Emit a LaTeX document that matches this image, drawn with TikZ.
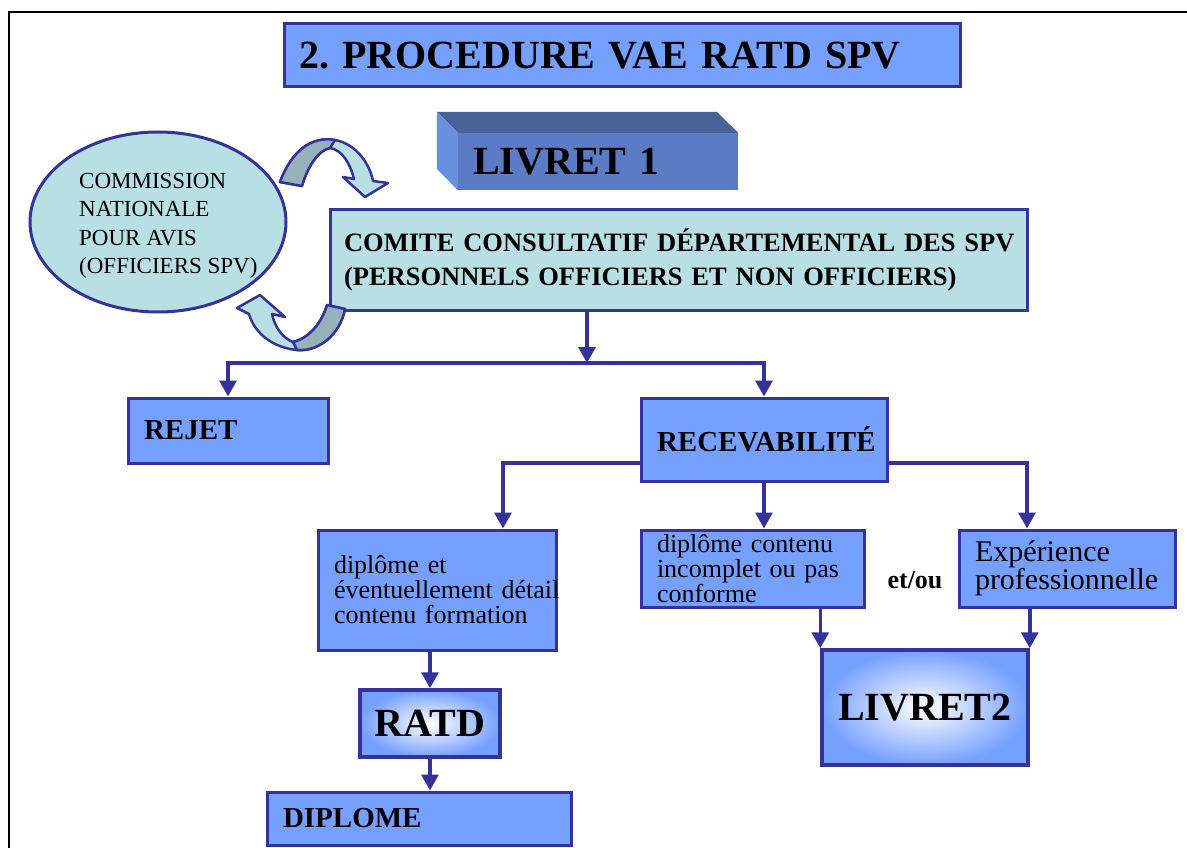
\documentclass[tikz,border=0pt]{standalone}
\usepackage{fontspec}
\setmainfont{Liberation Serif}
\usetikzlibrary{arrows.meta, shapes.geometric, calc}
\definecolor{boxblue}{RGB}{118,160,255}
\definecolor{boxline}{RGB}{51,51,153}
\definecolor{palecyan}{RGB}{184,224,228}
\definecolor{ribbongray}{RGB}{149,178,184}
\definecolor{cubefront}{RGB}{91,124,196}
\definecolor{cubetop}{RGB}{72,99,153}
\definecolor{cubeside}{RGB}{104,143,224}
\frenchspacing
\hyphenpenalty=10000
\exhyphenpenalty=10000

\begin{document}
\begin{tikzpicture}[x=1pt, y=-1pt,
                    box/.style = {draw=boxline, fill=boxblue, line width=3pt, inner xsep=16pt,
                                  inner ysep=0pt, align=left},
                    pale/.style = {box, fill=palecyan},
                    glow/.style = {draw=boxline, line width=3.5pt, inner color=white, outer color=boxblue,
                                   font=\bfseries\fontsize{40}{44}\selectfont},
                    flow/.style = {draw=boxline, line width=3.5pt, -{Triangle[width=17pt, length=16pt]}},
                    curl/.style = {draw=boxline, line width=2.5pt, line join=round}]
    \useasboundingbox (0,0) rectangle (1187,848);
    \draw[line width=2.5pt] (9,848) -- (9,12) -- (1187,12);

    \node[box, minimum width=676pt, minimum height=63pt, text width=646pt, inner xsep=15pt,
          font=\bfseries\fontsize{40}{46}\selectfont] (title) at (622,55.5) {\mbox{2. PROCEDURE VAE RATD SPV}};

    \node[fill=cubefront, minimum width=280pt, minimum height=57pt, text width=250pt, inner xsep=15pt,
          inner ysep=0pt, align=left, font=\bfseries\fontsize{40}{44}\selectfont] (livret1) at (598,161.5) {LIVRET 1};
    \fill[cubetop] (livret1.north west) -- ++(-21,-21) -- ++(280,0) -- (livret1.north east) -- cycle;
    \fill[cubeside] (livret1.north west) -- ++(-21,-21) -- ++(0,57) -- (livret1.south west) -- cycle;

    \node[pale, minimum width=697pt, minimum height=100pt, text width=669pt, inner xsep=14pt,
          font=\bfseries\fontsize{26.5}{33.5}\selectfont] (comite) at (678.5,260)
          {\mbox{COMITE CONSULTATIF DÉPARTEMENTAL DES SPV}\\\mbox{(PERSONNELS OFFICIERS ET NON OFFICIERS)}};

    \node[draw=boxline, fill=palecyan, ellipse, line width=3pt, minimum width=256pt,
          minimum height=180pt] (commission) at (158,222) {};
    \node[anchor=west, inner sep=0pt, align=left, font=\fontsize{23}{28.5}\selectfont] (commtext) at (79,226)
          {COMMISSION\\NATIONALE\\POUR AVIS\\(OFFICIERS SPV)};

    \filldraw[curl, fill=palecyan] (280,182) .. controls (292,150) and (312,136) .. (335,140)
        .. controls (357,144) and (370,165) .. (373,181) -- (388,183) -- (365,197) -- (343,177) -- (354,179)
        .. controls (350,163) and (342,150) .. (330,148) .. controls (318,150) and (307,168) .. (302,186) -- cycle;
    \filldraw[curl, fill=ribbongray] (280,182) .. controls (292,150) and (312,136) .. (335,140) -- (330,148)
        .. controls (318,150) and (307,168) .. (302,186) -- cycle;
    \filldraw[curl, fill=palecyan] (345,309) .. controls (340,335) and (318,352) .. (297,350)
        .. controls (275,348) and (255,335) .. (249,314) -- (237,308) -- (260,295) -- (285,317) -- (272,314)
        .. controls (275,328) and (283,338) .. (293,342) .. controls (310,338) and (322,322) .. (327,305) -- cycle;
    \filldraw[curl, fill=ribbongray] (345,309) .. controls (340,335) and (318,352) .. (297,350) -- (293,342)
        .. controls (310,338) and (322,322) .. (327,305) -- cycle;

    \node[box, minimum width=200pt, minimum height=65pt, text width=168pt,
          font=\bfseries\fontsize{29}{33}\selectfont] (rejet) at (228,430.5) {REJET};
    \node[box, minimum width=246pt, minimum height=83pt, text width=214pt,
          font=\bfseries\fontsize{29}{33}\selectfont] (recev) at (764,439.5) {\mbox{RECEVABILITÉ}};

    \node[box, minimum width=238pt, minimum height=120pt, text width=206pt,
          font=\fontsize{26}{25}\selectfont] (formation) at (437,590)
          {\mbox{diplôme et}\\\mbox{éventuellement détail}\\\mbox{contenu formation}};
    \node[box, minimum width=223pt, minimum height=77pt, text width=191pt,
          font=\fontsize{26}{21.7}\selectfont] (incomplet) at (752.5,568.5)
          {\mbox{diplôme contenu}\\\mbox{incomplet ou pas}\\\mbox{conforme}};
    \node[font=\bfseries\fontsize{26}{30}\selectfont] (etou) at (915,580) {et/ou};
    \node[box, minimum width=216pt, minimum height=77pt, text width=184pt,
          font=\fontsize{30}{25}\selectfont] (experience) at (1067,568.5)
          {\mbox{Expérience}\\\mbox{professionnelle}};

    \node[glow, minimum width=206pt, minimum height=115pt] (livret2) at (925,707.5) {LIVRET2};
    \node[glow, minimum width=140pt, minimum height=67pt] (ratd) at (430,723.5) {RATD};
    \node[box, minimum width=304pt, minimum height=53pt, text width=272pt,
          font=\bfseries\fontsize{29}{33}\selectfont] (diplome) at (419,818.5) {DIPLOME};

    \coordinate (split) at (587,363);
    \draw[flow] (comite.south -| split) -- (split);
    \draw[flow] (split) -| (rejet.north);
    \draw[flow] (split) -| (recev.north);
    \draw[flow] ($(recev.west)+(0,23.5)$) -| ($(formation.north)+(66,0)$);
    \draw[flow] (recev.south) -- (recev.south |- incomplet.north);
    \draw[flow] ($(recev.east)+(0,23.5)$) -| ($(experience.north)+(-40,0)$);
    \draw[flow] (livret2.north west |- incomplet.south) -- (livret2.north west);
    \draw[flow] (livret2.north east |- experience.south) -- (livret2.north east);
    \draw[flow] (ratd.north |- formation.south) -- (ratd.north);
    \draw[flow] (ratd.south) -- (ratd.south |- diplome.north);
\end{tikzpicture}
\end{document}
